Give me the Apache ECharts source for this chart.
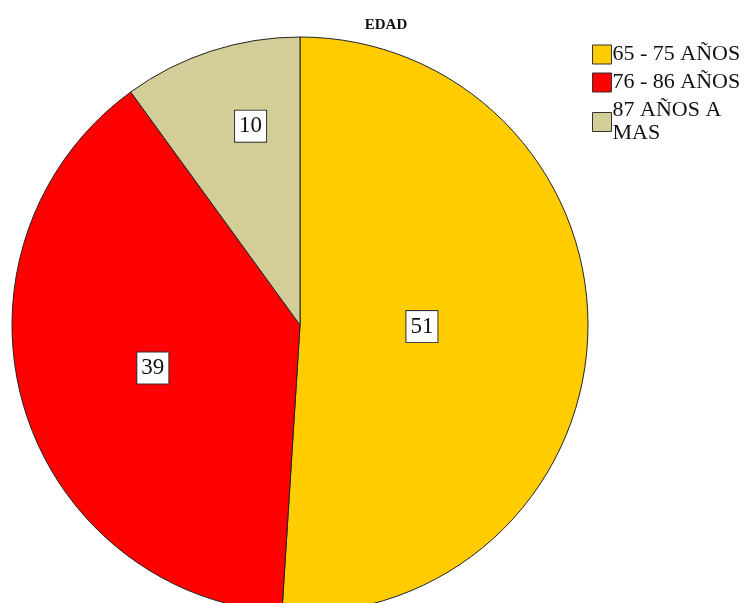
<!DOCTYPE html>
<html>
<head>
<meta charset="utf-8">
<script src="https://cdn.jsdelivr.net/npm/echarts@6/dist/echarts.min.js"></script>
<style>html,body{margin:0;padding:0;background:#fff}#c{width:751px;height:603px}</style>
</head>
<body>
<div id="c"></div>
<script>
const title = 'EDAD';
const categories = ['65 - 75 AÑOS', '76 - 86 AÑOS', '87 AÑOS A\nMAS'];
const values = [51, 39, 10];
const colors = ['#FFCC00', '#FF0000', '#D3CE98'];
const labelOffsets = [[-25, -3], [-6, 2], [-4, -59]];

const chart = echarts.init(document.getElementById('c'), null, {renderer: 'canvas'});
chart.setOption({
  animation: false,
  title: {
    text: title, left: 381, top: 13, textAlign: 'center',
    textStyle: {fontFamily: 'Liberation Serif', fontSize: 15, fontWeight: 'bold', color: '#111'}
  },
  legend: {
    orient: 'vertical', left: 587, top: 38, itemWidth: 19, itemHeight: 19, itemGap: 5,
    icon: 'rect',
    itemStyle: {borderColor: '#333', borderWidth: 1},
    textStyle: {fontFamily: 'Liberation Serif', fontSize: 22, color: '#111', padding: [0, 0, 0, -4], lineHeight: 23}
  },
  series: [{
    type: 'pie',
    center: [300, 325],
    radius: [0, 288],
    startAngle: 90,
    clockwise: true,
    silent: true,
    itemStyle: {borderColor: '#222', borderWidth: 1},
    label: {
      position: 'inside',
      formatter: '{c}',
      fontFamily: 'Liberation Serif', fontSize: 23, color: '#111',
      backgroundColor: '#fff', borderColor: '#333', borderWidth: 1,
      padding: [5, 4, 3, 4]
    },
    labelLine: {show: false},
    data: categories.map((n, i) => ({
      name: n, value: values[i],
      itemStyle: {color: colors[i]},
      label: {offset: labelOffsets[i]}
    }))
  }]
});
</script>
</body>
</html>
